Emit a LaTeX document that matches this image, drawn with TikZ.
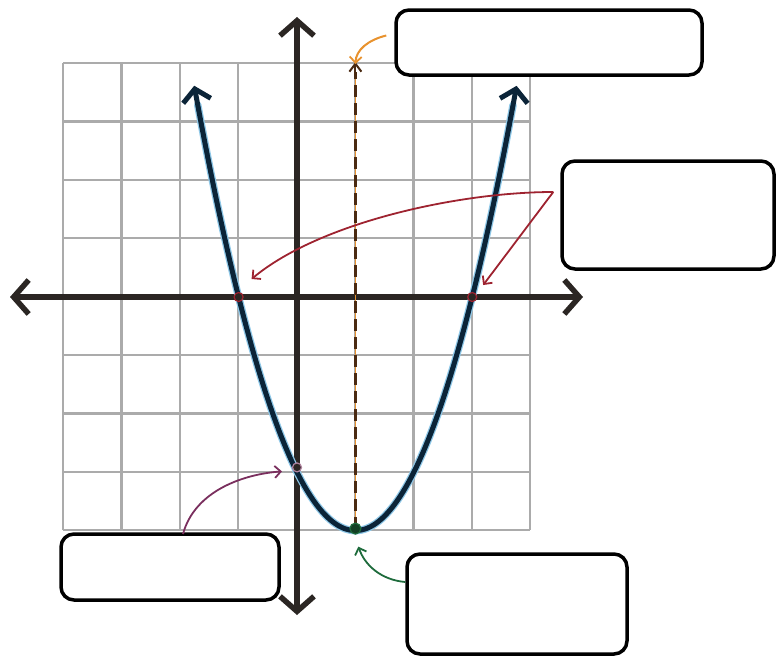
\documentclass[tikz,border=0pt]{standalone}
\usetikzlibrary{arrows.meta}
\definecolor{axiscol}{HTML}{2B2623}
\definecolor{gridcol}{HTML}{ABABAB}
\definecolor{paracol}{HTML}{0B2438}
\definecolor{glowcol}{HTML}{8FC8E8}
\definecolor{orangecol}{HTML}{E8922E}
\definecolor{dashcol}{HTML}{4A2A12}
\definecolor{redcol}{HTML}{9E2330}
\definecolor{purplecol}{HTML}{7A2F5E}
\definecolor{greencol}{HTML}{1E6B3C}
\tikzset{
  box/.style={draw=black, line width=3.5pt, rounded corners=13pt, fill=white, inner sep=0pt},
  axisline/.style={draw=axiscol, line width=5.5pt, line cap=round,
     -{Straight Barb[length=15pt,width=34pt,line width=5.5pt]}},
  pointer/.style={line width=1.8pt, -{Straight Barb[length=6pt,width=12pt,line width=1.8pt]}},
  dotmark/.style={circle, inner sep=0pt, minimum size=9pt, line width=1.2pt},
}
\begin{document}
\begin{tikzpicture}[x=1pt,y=-1pt]
\useasboundingbox (0,0) rectangle (778,659);
% grid
\foreach \i in {0,...,8} {
  \draw[gridcol, line width=2.4pt] ({63+58.4*\i},63) -- ({63+58.4*\i},530.2);
  \draw[gridcol, line width=2.4pt] (63,{63+58.4*\i}) -- (530.2,{63+58.4*\i});
}
% axes
\coordinate (xl) at (10,297);
\coordinate (xr) at (583,297);
\coordinate (yt) at (297,17);
\coordinate (yb) at (297,615);
\coordinate (origin) at (297,297);
\draw[axisline] (origin) -- (xl);
\draw[axisline] (origin) -- (xr);
\draw[axisline] (origin) -- (yt);
\draw[axisline] (origin) -- (yb);
% axis of symmetry
\coordinate (V) at (355.4,528.6);
\coordinate (vtop) at (355.4,62);
\draw[orangecol, line width=1.8pt] (V) -- (vtop);
\draw[dashcol, line width=2.2pt, dash pattern=on 12pt off 6pt] (V) -- ([yshift=-10pt]vtop);
\draw[dashcol, line width=2pt, -{Straight Barb[length=8pt,width=12pt,line width=2pt]}] ([yshift=-12pt]vtop) -- (vtop);
% parabola
\draw[glowcol, line width=7.5pt, line cap=round] plot[domain=-1.70:3.70, samples=80, smooth] ({297+58.4*\x},{297-58.4*(\x*\x-2*\x-3)});
\draw[paracol, line width=5pt, {Straight Barb[length=12pt,width=28pt,line width=5pt]}-{Straight Barb[length=12pt,width=28pt,line width=5pt]}] plot[domain=-1.76:3.76, samples=80, smooth] ({297+58.4*\x},{297-58.4*(\x*\x-2*\x-3)});
% key points
\node[dotmark, draw=redcol, fill=axiscol] (rl) at (238.6,297) {};
\node[dotmark, draw=redcol, fill=axiscol] (rr) at (472.2,297) {};
\node[dotmark, draw=purplecol!60, fill=axiscol] (yi) at (297,467.4) {};
\node[dotmark, draw=greencol, fill=greencol!60!black, minimum size=11pt] (vx) at (V) {};
% boxes
\node[box, minimum width=306pt, minimum height=65pt] (top) at (549,42.5) {};
\node[box, minimum width=212pt, minimum height=108pt] (right) at (668,215) {};
\node[box, minimum width=218pt, minimum height=66pt] (bl) at (170,567) {};
\node[box, minimum width=220pt, minimum height=100pt] (br) at (517,604) {};
% pointers
\coordinate (ostart) at ([xshift=-8pt,yshift=7pt]top.west);
\draw[pointer, orangecol, line width=2pt] (ostart) .. controls (368,40) and (356,50) .. ([yshift=-2pt]vtop);
\coordinate (rstart) at ([xshift=-7pt,yshift=23pt]right.west);
\draw[pointer, redcol] (rstart) .. controls (460,192) and (320,222) .. ([xshift=13pt,yshift=18pt]rl.center);
\draw[pointer, redcol] (rstart) -- ([xshift=11pt,yshift=12pt]rr.center);
\coordinate (pstart) at (183,534);
\draw[pointer, purplecol] (pstart) .. controls (195,490) and (245,474) .. ([xshift=-15pt,yshift=-4pt]yi.center);
\coordinate (gstart) at ([yshift=22pt]br.west);
\draw[pointer, greencol] (gstart) .. controls (382,580) and (365,566) .. ([xshift=3pt,yshift=-18pt]vx.center);
\end{tikzpicture}
\end{document}
